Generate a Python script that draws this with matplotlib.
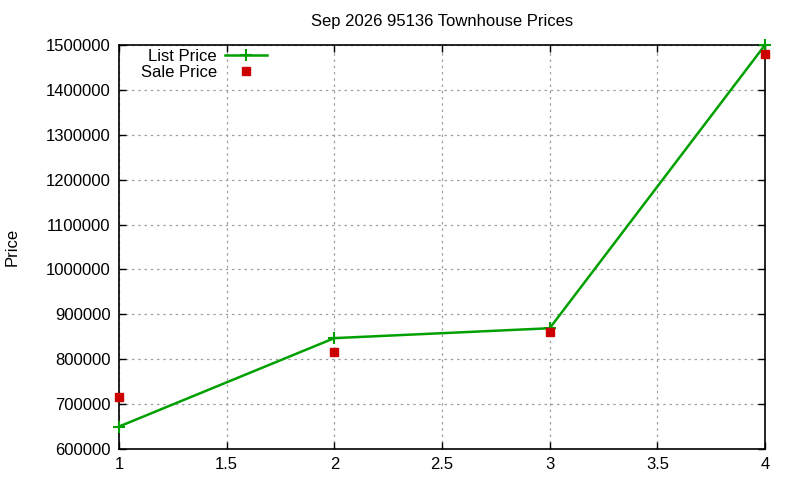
import matplotlib
matplotlib.use("Agg")
import matplotlib.pyplot as plt

x_vals = [1, 2, 3, 4]
list_price = [650000, 847000, 869000, 1500000]
sale_price = [716000, 817000, 861000, 1480000]
title = "Sep 2026 95136 Townhouse Prices"
y_ticks = [600000, 700000, 800000, 900000, 1000000, 1100000, 1200000, 1300000, 1400000, 1500000]
x_ticks = [1, 1.5, 2, 2.5, 3, 3.5, 4]

plt.rcParams['font.family'] = ['Liberation Sans', 'DejaVu Sans']
fig = plt.figure(figsize=(8, 4.8), dpi=100)
ax = fig.add_axes([119/800, 31/480, 646/800, 404/480])

ax.plot(x_vals, list_price, color='#00a000', linewidth=1.8, marker='+', markersize=8,
        markeredgewidth=1.5, label='List Price', zorder=3, clip_on=False)
ax.plot(x_vals, sale_price, linestyle='none', color='#cc0000', marker='s', markersize=6,
        label='Sale Price', zorder=4, clip_on=False)

fs = 12
ax.set_xlim(1, 4)
ax.set_ylim(600000, 1500000)
ax.set_xticks(x_ticks)
ax.set_xticklabels(['1', '1.5', '2', '2.5', '3', '3.5', '4'])
ax.set_yticks(y_ticks)
ax.set_yticklabels([str(v) for v in y_ticks])
ax.tick_params(direction='in', top=True, right=True, labelsize=fs, length=5, width=1, pad=6)
ax.grid(True, color='#a0a0a0', linestyle=(0, (2, 3)), linewidth=0.9)
for s in ax.spines.values():
    s.set_linewidth(1.2)
    s.set_color('black')

ax.set_title(title, fontsize=fs, pad=14)
ax.set_ylabel('Price', fontsize=fs, labelpad=19)

leg = ax.legend(loc='upper right', bbox_to_anchor=(148/646, 0.991), frameon=False, markerfirst=False,
                fontsize=fs, handlelength=2.5, borderpad=0, borderaxespad=0,
                labelspacing=0.07, handletextpad=0.5)
for t in leg.get_texts():
    t.set_ha('right')

fig.savefig('out.png', dpi=100)
